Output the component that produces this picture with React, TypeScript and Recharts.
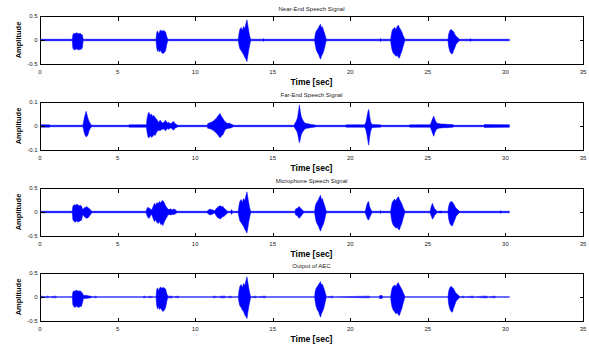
import { ComposedChart, Area, XAxis, YAxis } from "recharts";

// [time (s), upper envelope, lower envelope]
type Env = [number, number, number];

const TIME_TICKS = [0, 5, 10, 15, 20, 25, 30, 35];
const TITLES = ["Near-End Speech Signal", "Far-End Speech Signal", "Microphone Speech Signal", "Output of AEC"];
const LIMITS = [0.5, 0.1, 0.5, 0.5];

const NEAR_END: Env[] = [
  [0, 0.015, -0.015],
  [2.08, 0.015, -0.015], [2.12, 0.11, -0.17], [2.18, 0.14, -0.2], [2.26, 0.13, -0.21], [2.34, 0.15, -0.18],
  [2.42, 0.14, -0.2], [2.5, 0.13, -0.21], [2.58, 0.14, -0.19], [2.66, 0.12, -0.2], [2.74, 0.1, -0.15], [2.78, 0.015, -0.015],
  [7.48, 0.015, -0.015], [7.52, 0.15, -0.16], [7.58, 0.19, -0.24], [7.64, 0.12, -0.2], [7.7, 0.17, -0.25], [7.78, 0.21, -0.22],
  [7.86, 0.18, -0.27], [7.94, 0.2, -0.28], [8.02, 0.19, -0.26], [8.1, 0.16, -0.22], [8.18, 0.06, -0.08], [8.24, 0.015, -0.015],
  [12.78, 0.015, -0.015], [12.82, 0.12, -0.1], [12.88, 0.22, -0.18], [12.96, 0.26, -0.22], [13.04, 0.2, -0.26], [13.12, 0.28, -0.3],
  [13.2, 0.24, -0.36], [13.28, 0.35, -0.4], [13.34, 0.42, -0.45], [13.4, 0.3, -0.32], [13.46, 0.18, -0.2], [13.52, 0.08, -0.1], [13.58, 0.015, -0.015],
  [14.36, 0.015, -0.015], [14.4, 0.03, -0.03], [14.44, 0.015, -0.015],
  [17.7, 0.015, -0.015], [17.74, 0.12, -0.1], [17.8, 0.18, -0.2], [17.88, 0.22, -0.26], [17.96, 0.26, -0.3], [18.02, 0.3, -0.36],
  [18.08, 0.33, -0.4], [18.14, 0.25, -0.34], [18.2, 0.28, -0.3], [18.28, 0.2, -0.24], [18.36, 0.12, -0.14], [18.42, 0.05, -0.05], [18.46, 0.015, -0.015],
  [21.92, 0.015, -0.015], [21.96, 0.035, -0.035], [22.0, 0.015, -0.015],
  [22.6, 0.015, -0.015], [22.64, 0.1, -0.12], [22.7, 0.2, -0.22], [22.78, 0.24, -0.28], [22.86, 0.26, -0.3], [22.94, 0.22, -0.34],
  [23.02, 0.28, -0.32], [23.1, 0.31, -0.36], [23.16, 0.26, -0.38], [23.24, 0.22, -0.3], [23.32, 0.17, -0.24], [23.4, 0.1, -0.14],
  [23.48, 0.04, -0.05], [23.52, 0.015, -0.015],
  [26.3, 0.015, -0.015], [26.34, 0.12, -0.14], [26.42, 0.2, -0.24], [26.5, 0.22, -0.28], [26.58, 0.2, -0.29], [26.66, 0.17, -0.22],
  [26.74, 0.12, -0.16], [26.82, 0.08, -0.09], [26.92, 0.05, -0.05], [27.02, 0.02, -0.02], [27.06, 0.015, -0.015],
  [27.7, 0.015, -0.015], [27.74, 0.03, -0.03], [27.78, 0.015, -0.015],
  [30.27, 0.015, -0.015],
];

const FAR_END: Env[] = [
  [0, 0.005, -0.005], [0.6, 0.005, -0.005], [0.65, 0.003, -0.003],
  [2.76, 0.003, -0.003], [2.8, 0.015, -0.012], [2.86, 0.035, -0.03], [2.92, 0.05, -0.04], [2.98, 0.061, -0.046], [3.04, 0.045, -0.042],
  [3.1, 0.03, -0.035], [3.16, 0.02, -0.02], [3.24, 0.01, -0.01], [3.32, 0.003, -0.003],
  [5.7, 0.003, -0.003], [5.74, 0.005, -0.005], [6.8, 0.005, -0.005],
  [6.86, 0.005, -0.005], [6.9, 0.03, -0.025], [6.96, 0.05, -0.045], [7.02, 0.057, -0.05], [7.1, 0.045, -0.04], [7.18, 0.05, -0.047],
  [7.26, 0.04, -0.044], [7.34, 0.044, -0.035], [7.42, 0.035, -0.04], [7.5, 0.03, -0.028], [7.58, 0.022, -0.02], [7.66, 0.015, -0.018],
  [7.74, 0.025, -0.02], [7.82, 0.018, -0.015], [7.9, 0.012, -0.014], [8.0, 0.016, -0.012], [8.1, 0.024, -0.02], [8.2, 0.012, -0.01],
  [8.3, 0.015, -0.014], [8.4, 0.01, -0.008], [8.5, 0.012, -0.01], [8.6, 0.02, -0.018], [8.7, 0.01, -0.009], [8.8, 0.006, -0.006], [8.9, 0.003, -0.003],
  [10.78, 0.003, -0.003], [10.82, 0.01, -0.01], [10.9, 0.012, -0.01], [11.0, 0.015, -0.012], [11.1, 0.018, -0.016], [11.2, 0.022, -0.02],
  [11.3, 0.028, -0.025], [11.4, 0.035, -0.032], [11.5, 0.045, -0.04], [11.6, 0.052, -0.049], [11.7, 0.04, -0.042], [11.8, 0.03, -0.035],
  [11.9, 0.02, -0.02], [12.0, 0.015, -0.012], [12.1, 0.01, -0.01], [12.2, 0.012, -0.009], [12.3, 0.008, -0.008], [12.4, 0.006, -0.005], [12.48, 0.003, -0.003],
  [16.38, 0.003, -0.003], [16.44, 0.012, -0.01], [16.52, 0.02, -0.018], [16.6, 0.035, -0.03], [16.66, 0.06, -0.05], [16.72, 0.088, -0.07],
  [16.78, 0.06, -0.055], [16.84, 0.04, -0.035], [16.9, 0.03, -0.028], [16.98, 0.02, -0.02], [17.08, 0.012, -0.012], [17.2, 0.01, -0.009],
  [17.35, 0.008, -0.008], [17.5, 0.006, -0.006], [17.65, 0.005, -0.005], [17.8, 0.003, -0.003],
  [19.7, 0.003, -0.003], [19.74, 0.005, -0.005], [20.9, 0.005, -0.005],
  [20.96, 0.008, -0.008], [21.02, 0.02, -0.02], [21.08, 0.04, -0.04], [21.14, 0.06, -0.065], [21.19, 0.069, -0.08], [21.24, 0.045, -0.05],
  [21.3, 0.02, -0.025], [21.36, 0.01, -0.012], [21.42, 0.006, -0.006], [21.95, 0.005, -0.005], [22.0, 0.003, -0.003],
  [23.8, 0.003, -0.003], [23.84, 0.005, -0.005], [25.1, 0.005, -0.005],
  [25.16, 0.006, -0.006], [25.22, 0.015, -0.015], [25.3, 0.03, -0.03], [25.38, 0.041, -0.043], [25.44, 0.03, -0.03], [25.5, 0.02, -0.02],
  [25.58, 0.012, -0.012], [25.7, 0.01, -0.009], [25.85, 0.008, -0.008], [26.0, 0.008, -0.007], [26.2, 0.007, -0.007], [26.4, 0.006, -0.006],
  [26.6, 0.006, -0.005], [26.7, 0.003, -0.003],
  [28.6, 0.003, -0.003], [28.64, 0.006, -0.006], [30.27, 0.005, -0.005],
];

const MICROPHONE: Env[] = [
  [0, 0.015, -0.015],
  [2.08, 0.015, -0.015], [2.12, 0.12, -0.16], [2.2, 0.15, -0.2], [2.28, 0.14, -0.21], [2.36, 0.16, -0.19], [2.44, 0.15, -0.21],
  [2.52, 0.13, -0.2], [2.6, 0.14, -0.18], [2.68, 0.12, -0.17], [2.74, 0.06, -0.08], [2.8, 0.06, -0.06], [2.86, 0.09, -0.1],
  [2.94, 0.1, -0.12], [3.02, 0.11, -0.13], [3.1, 0.09, -0.12], [3.18, 0.07, -0.09], [3.26, 0.04, -0.05], [3.34, 0.015, -0.015],
  [6.84, 0.015, -0.015], [6.88, 0.06, -0.06], [6.96, 0.1, -0.12], [7.04, 0.08, -0.13], [7.12, 0.06, -0.08], [7.2, 0.04, -0.05],
  [7.3, 0.12, -0.14], [7.38, 0.18, -0.2], [7.46, 0.14, -0.16], [7.54, 0.2, -0.22], [7.62, 0.17, -0.24], [7.7, 0.22, -0.2],
  [7.78, 0.19, -0.26], [7.86, 0.23, -0.25], [7.92, 0.24, -0.28], [8.0, 0.2, -0.22], [8.08, 0.14, -0.16], [8.16, 0.1, -0.12],
  [8.24, 0.06, -0.07], [8.32, 0.05, -0.05], [8.42, 0.07, -0.06], [8.52, 0.04, -0.05], [8.62, 0.06, -0.05], [8.72, 0.05, -0.04],
  [8.8, 0.02, -0.02], [8.84, 0.015, -0.015],
  [10.76, 0.015, -0.015], [10.82, 0.03, -0.03], [10.9, 0.05, -0.05], [10.98, 0.06, -0.06], [11.06, 0.04, -0.05], [11.14, 0.05, -0.04],
  [11.22, 0.02, -0.02], [11.3, 0.04, -0.04], [11.38, 0.08, -0.09], [11.46, 0.1, -0.12], [11.54, 0.12, -0.13], [11.62, 0.13, -0.146],
  [11.7, 0.11, -0.12], [11.78, 0.12, -0.1], [11.86, 0.08, -0.09], [11.94, 0.06, -0.07], [12.02, 0.03, -0.04], [12.1, 0.015, -0.015],
  [12.3, 0.015, -0.015], [12.35, 0.05, -0.05], [12.4, 0.015, -0.015],
  [12.78, 0.015, -0.015], [12.82, 0.12, -0.1], [12.88, 0.22, -0.18], [12.96, 0.26, -0.22], [13.04, 0.2, -0.26], [13.12, 0.28, -0.3],
  [13.2, 0.24, -0.36], [13.28, 0.35, -0.4], [13.34, 0.42, -0.44], [13.4, 0.3, -0.32], [13.46, 0.18, -0.2], [13.52, 0.08, -0.1], [13.58, 0.015, -0.015],
  [16.42, 0.015, -0.015], [16.46, 0.04, -0.04], [16.52, 0.08, -0.08], [16.58, 0.06, -0.06], [16.64, 0.1, -0.11], [16.72, 0.11, -0.13],
  [16.8, 0.08, -0.1], [16.88, 0.05, -0.06], [16.96, 0.03, -0.03], [17.0, 0.015, -0.015],
  [17.7, 0.015, -0.015], [17.74, 0.12, -0.1], [17.8, 0.18, -0.2], [17.88, 0.22, -0.26], [17.96, 0.27, -0.3], [18.02, 0.31, -0.36],
  [18.08, 0.35, -0.4], [18.14, 0.26, -0.34], [18.2, 0.28, -0.3], [18.28, 0.2, -0.24], [18.36, 0.12, -0.14], [18.42, 0.05, -0.05], [18.46, 0.015, -0.015],
  [20.96, 0.015, -0.015], [21.0, 0.06, -0.05], [21.06, 0.14, -0.1], [21.12, 0.2, -0.15], [21.18, 0.22, -0.17], [21.24, 0.12, -0.12],
  [21.3, 0.07, -0.08], [21.36, 0.03, -0.04], [21.42, 0.015, -0.015],
  [21.9, 0.015, -0.015], [21.94, 0.03, -0.03], [22.0, 0.015, -0.015],
  [22.6, 0.015, -0.015], [22.64, 0.1, -0.12], [22.7, 0.2, -0.22], [22.78, 0.24, -0.28], [22.86, 0.27, -0.3], [22.94, 0.23, -0.34],
  [23.02, 0.29, -0.32], [23.1, 0.32, -0.36], [23.16, 0.27, -0.375], [23.24, 0.22, -0.3], [23.32, 0.17, -0.24], [23.4, 0.1, -0.14],
  [23.48, 0.04, -0.05], [23.52, 0.015, -0.015],
  [25.14, 0.015, -0.015], [25.18, 0.06, -0.05], [25.24, 0.14, -0.1], [25.3, 0.18, -0.15], [25.36, 0.12, -0.12], [25.44, 0.07, -0.07],
  [25.52, 0.04, -0.04], [25.6, 0.015, -0.015], [25.8, 0.02, -0.02], [26.0, 0.015, -0.015],
  [26.3, 0.015, -0.015], [26.34, 0.12, -0.14], [26.42, 0.2, -0.24], [26.5, 0.22, -0.28], [26.58, 0.21, -0.29], [26.66, 0.17, -0.22],
  [26.74, 0.12, -0.16], [26.82, 0.08, -0.09], [26.92, 0.05, -0.05], [27.02, 0.02, -0.02], [27.06, 0.015, -0.015],
  [29.66, 0.015, -0.015], [29.7, 0.03, -0.03], [29.74, 0.015, -0.015],
  [30.27, 0.015, -0.015],
];

const AEC_OUTPUT: Env[] = [
  [0, 0.003, -0.003], [0.1, 0.018, -0.018], [0.3, 0.003, -0.003], [0.5, 0.018, -0.018], [0.6, 0.003, -0.003], [1.0, 0.018, -0.018], [1.1, 0.003, -0.003],
  [2.08, 0.003, -0.003], [2.12, 0.1, -0.16], [2.18, 0.13, -0.2], [2.26, 0.12, -0.22], [2.34, 0.14, -0.19], [2.42, 0.13, -0.21],
  [2.5, 0.12, -0.22], [2.58, 0.13, -0.2], [2.66, 0.11, -0.2], [2.74, 0.08, -0.12], [2.8, 0.03, -0.03], [2.95, 0.035, -0.03],
  [3.1, 0.025, -0.025], [3.3, 0.015, -0.015], [3.4, 0.003, -0.003], [3.6, 0.018, -0.018], [3.7, 0.003, -0.003],
  [6.6, 0.003, -0.003], [6.7, 0.018, -0.018], [6.9, 0.003, -0.003], [7.1, 0.018, -0.018], [7.3, 0.003, -0.003],
  [7.48, 0.003, -0.003], [7.52, 0.15, -0.17], [7.58, 0.19, -0.25], [7.64, 0.13, -0.2], [7.7, 0.18, -0.26], [7.78, 0.21, -0.23],
  [7.86, 0.18, -0.28], [7.94, 0.2, -0.3], [8.02, 0.19, -0.27], [8.1, 0.16, -0.22], [8.18, 0.06, -0.08], [8.24, 0.018, -0.018],
  [8.5, 0.018, -0.018], [8.6, 0.003, -0.003], [8.9, 0.018, -0.018], [9.0, 0.003, -0.003],
  [11.1, 0.003, -0.003], [11.2, 0.018, -0.018], [11.5, 0.003, -0.003], [11.7, 0.018, -0.018], [11.9, 0.018, -0.018], [12.0, 0.003, -0.003],
  [12.3, 0.018, -0.018], [12.4, 0.003, -0.003],
  [12.78, 0.003, -0.003], [12.82, 0.12, -0.1], [12.88, 0.22, -0.18], [12.96, 0.26, -0.22], [13.04, 0.2, -0.27], [13.12, 0.28, -0.3],
  [13.2, 0.24, -0.37], [13.28, 0.35, -0.41], [13.34, 0.42, -0.45], [13.4, 0.3, -0.32], [13.46, 0.18, -0.2], [13.52, 0.08, -0.1], [13.58, 0.003, -0.003],
  [13.9, 0.018, -0.018], [14.0, 0.003, -0.003], [14.5, 0.018, -0.018], [14.6, 0.003, -0.003],
  [17.7, 0.003, -0.003], [17.74, 0.12, -0.1], [17.8, 0.18, -0.2], [17.88, 0.22, -0.27], [17.96, 0.26, -0.31], [18.02, 0.29, -0.37],
  [18.08, 0.32, -0.42], [18.14, 0.25, -0.35], [18.2, 0.27, -0.31], [18.28, 0.2, -0.25], [18.36, 0.12, -0.14], [18.42, 0.05, -0.05], [18.46, 0.003, -0.003],
  [18.85, 0.018, -0.018], [18.95, 0.003, -0.003], [21.2, 0.018, -0.018], [21.28, 0.003, -0.003],
  [21.85, 0.003, -0.003], [21.9, 0.03, -0.03], [22.05, 0.03, -0.03], [22.1, 0.003, -0.003],
  [22.6, 0.003, -0.003], [22.64, 0.1, -0.12], [22.7, 0.19, -0.22], [22.78, 0.23, -0.28], [22.86, 0.25, -0.31], [22.94, 0.22, -0.35],
  [23.02, 0.27, -0.33], [23.1, 0.3, -0.37], [23.16, 0.25, -0.39], [23.24, 0.21, -0.31], [23.32, 0.16, -0.24], [23.4, 0.1, -0.14],
  [23.48, 0.04, -0.05], [23.52, 0.003, -0.003],
  [26.3, 0.003, -0.003], [26.34, 0.12, -0.15], [26.42, 0.2, -0.25], [26.5, 0.22, -0.3], [26.58, 0.2, -0.32], [26.66, 0.17, -0.23],
  [26.74, 0.12, -0.16], [26.82, 0.08, -0.09], [26.92, 0.05, -0.05], [27.02, 0.02, -0.02], [27.1, 0.003, -0.003],
  [27.3, 0.018, -0.018], [27.4, 0.003, -0.003], [27.9, 0.018, -0.018], [28.0, 0.003, -0.003], [28.6, 0.018, -0.018], [28.8, 0.018, -0.018],
  [28.9, 0.003, -0.003], [29.3, 0.018, -0.018], [29.4, 0.003, -0.003],
  [30.27, 0.003, -0.003],
];

const SIGNALS = [NEAR_END, FAR_END, MICROPHONE, AEC_OUTPUT];
const PANEL_TOPS = [2, 88, 174, 259];

const W = 589;
const H = 90;
const BLUE = "#0000ff";
const FONT = "'Liberation Sans', Arial, sans-serif";
const X_MAX = 35;
const LEFT = 40; // left axis width
const TOP = 14; // space above the plot box
const PLOT_W = 543;
const PLOT_H = 48;
const TICK = 4; // inward tick length

// box and inward ticks drawn over the plot area, MATLAB style
function Frame() {
  const xs = TIME_TICKS.map((t) => LEFT + (t / X_MAX) * PLOT_W);
  const y0 = TOP + PLOT_H / 2;
  const x0 = LEFT + 0.5;
  const x1 = LEFT + PLOT_W + 0.5;
  const yt = TOP + 0.5;
  const yb = TOP + PLOT_H + 0.5;
  return (
    <svg width={W} height={H} style={{ position: "absolute", left: 0, top: 0, pointerEvents: "none" }}>
      <g stroke="#000" strokeWidth={1} fill="none" shapeRendering="crispEdges">
        <rect x={x0} y={yt} width={x1 - x0} height={yb - yt} strokeWidth={1.2} />
        {xs.map((x, i) => (
          <g key={i}>
            <line x1={x + 0.5} x2={x + 0.5} y1={yb} y2={yb - TICK} />
            <line x1={x + 0.5} x2={x + 0.5} y1={yt} y2={yt + TICK} />
          </g>
        ))}
        <line x1={x0} x2={x0 + TICK} y1={y0 + 0.5} y2={y0 + 0.5} />
        <line x1={x1 - TICK} x2={x1} y1={y0 + 0.5} y2={y0 + 0.5} />
      </g>
    </svg>
  );
}

function Panel({ title, env, limit }: { title: string; env: Env[]; limit: number }) {
  const data = env.map(([t, hi, lo]) => ({ t, band: [lo, hi] }));
  const yTicks = [-limit, 0, limit];
  return (
    <div style={{ position: "relative", width: W, height: H }}>
      <ComposedChart width={W} height={H} data={data} margin={{ top: TOP, right: W - LEFT - PLOT_W, bottom: 0, left: 0 }}>
        <XAxis
          dataKey="t"
          type="number"
          domain={[0, X_MAX]}
          ticks={TIME_TICKS}
          interval={0}
          allowDataOverflow
          height={H - TOP - PLOT_H}
          axisLine={false}
          tickLine={false}
          tickSize={0}
          tickMargin={6}
          tick={{ fontSize: 6, fill: "#222" }}
          label={{
            content: ({ viewBox }: any) => (
              <text x={viewBox.x + viewBox.width / 2} y={viewBox.y + 21} textAnchor="middle" fontSize={8.5} fontWeight="bold" fill="#000">
                Time [sec]
              </text>
            ),
          }}
        />
        <YAxis
          type="number"
          domain={[-limit, limit]}
          ticks={yTicks}
          allowDataOverflow
          width={LEFT}
          axisLine={false}
          tickLine={false}
          tickSize={0}
          tickMargin={2.5}
          tick={{ fontSize: 6, fill: "#222" }}
          label={{
            content: ({ viewBox }: any) => {
              const cx = 19;
              const cy = viewBox.y + viewBox.height / 2;
              return (
                <g>
                  <text x={cx} y={cy} transform={`rotate(-90 ${cx} ${cy})`} textAnchor="middle" dominantBaseline="middle" fontSize={7.5} fontWeight="bold" fill="#000">
                    Amplitude
                  </text>
                  <text x={LEFT + PLOT_W / 2} y={viewBox.y - 5} textAnchor="middle" fontSize={6} fill="#222">
                    {title}
                  </text>
                </g>
              );
            },
          }}
        />
        <Area
          dataKey="band"
          type="linear"
          stroke={BLUE}
          strokeWidth={0.5}
          fill={BLUE}
          fillOpacity={1}
          dot={false}
          activeDot={false}
          isAnimationActive={false}
        />
      </ComposedChart>
      <Frame />
    </div>
  );
}

export default function App() {
  return (
    <div style={{ position: "absolute", left: 0, top: 0, width: W, height: 349, background: "#fff", fontFamily: FONT, overflow: "hidden" }}>
      {SIGNALS.map((env, i) => (
        <div key={i} style={{ position: "absolute", left: 0, top: PANEL_TOPS[i] }}>
          <Panel title={TITLES[i]} env={env} limit={LIMITS[i]} />
        </div>
      ))}
    </div>
  );
}
